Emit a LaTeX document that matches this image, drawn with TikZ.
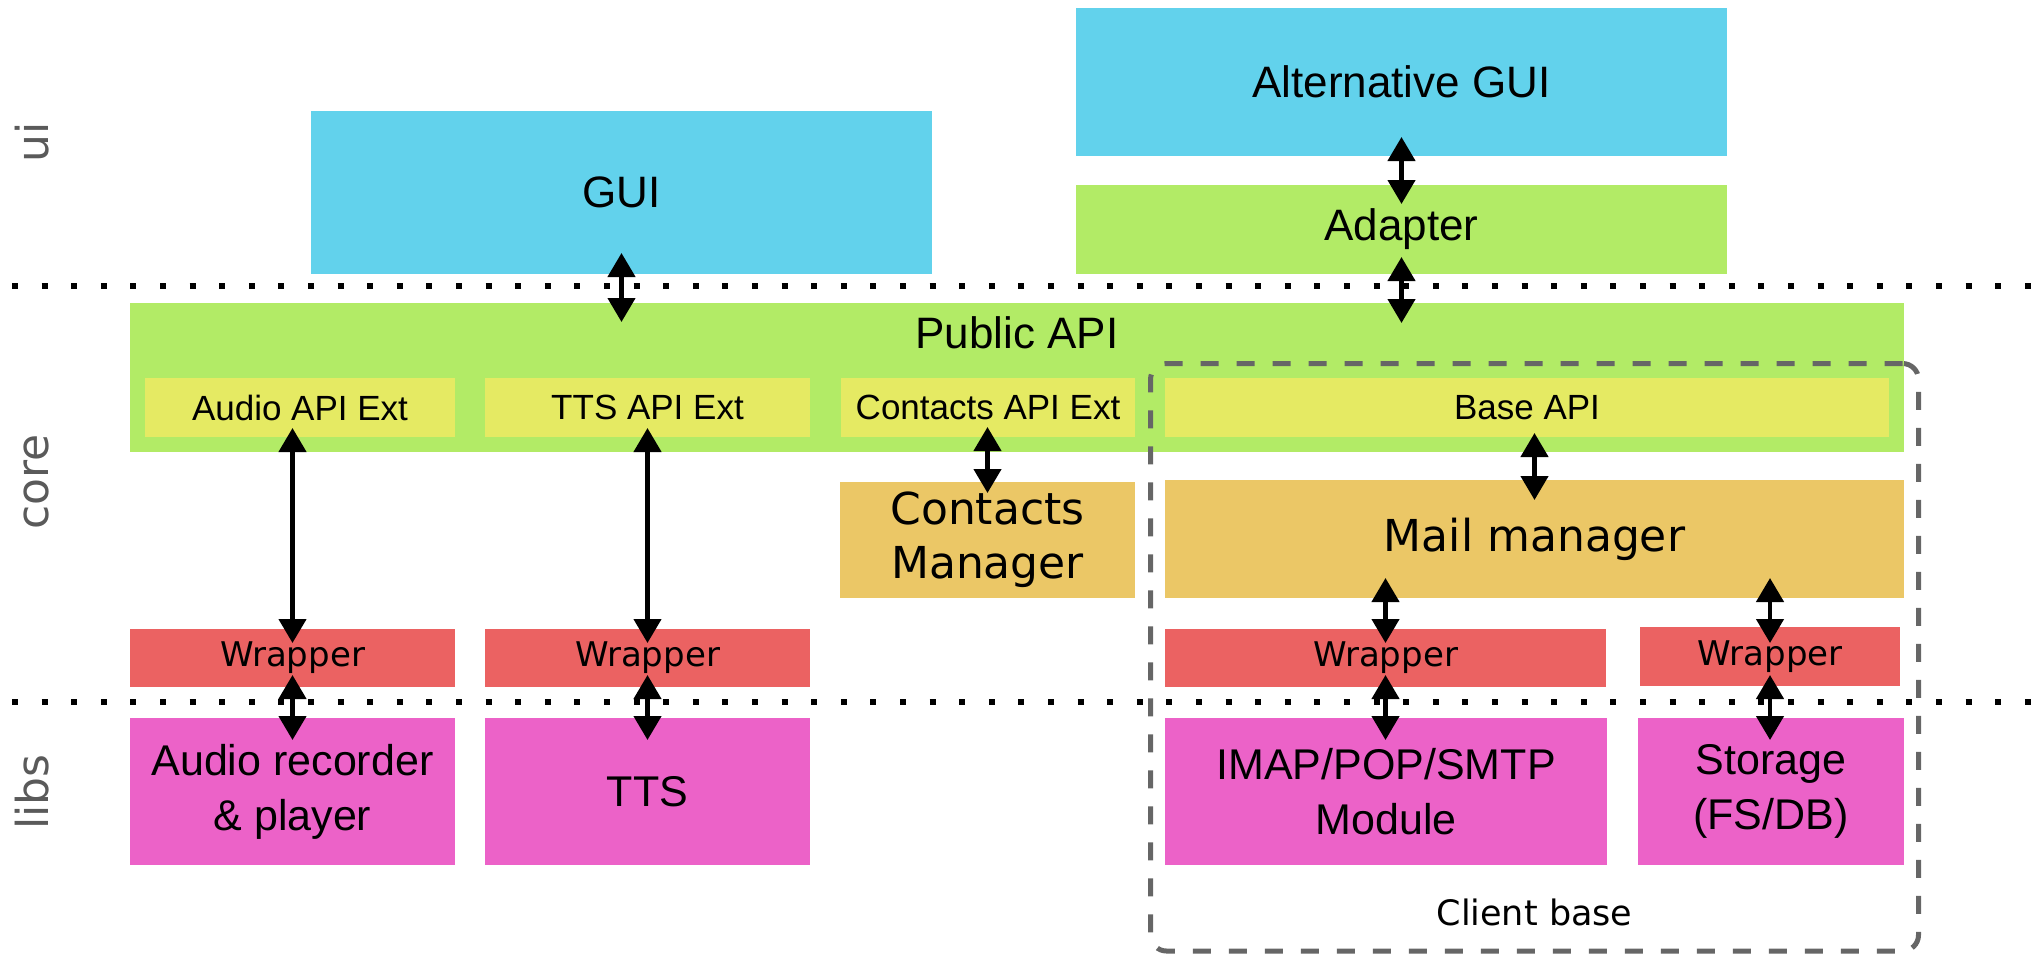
\documentclass[tikz,border=0pt]{standalone}
\usepackage{fontspec}
\setmainfont{Liberation Sans}
\newfontfamily\dvsans{DejaVu Sans}
\usetikzlibrary{arrows.meta}
\definecolor{ccyan}{HTML}{62D2EC}
\definecolor{cgreen}{HTML}{B2EB66}
\definecolor{cyell}{HTML}{E5EA63}
\definecolor{corange}{HTML}{EBC766}
\definecolor{cred}{HTML}{EB6262}
\definecolor{cmag}{HTML}{EC62C8}
\definecolor{cdash}{HTML}{666666}
\definecolor{clayer}{HTML}{5A5A5A}
\newcommand\FntBig{\fontsize{44}{54}\selectfont}
\newcommand\FntApi{\fontsize{35}{42}\selectfont}
\newcommand\FntLib{\fontsize{43}{55}\selectfont}
\newcommand\FntMgr{\dvsans\fontsize{44}{54}\selectfont}
\newcommand\FntWrap{\dvsans\fontsize{34}{40}\selectfont}
\newcommand\FntClient{\dvsans\fontsize{35}{42}\selectfont}
\newcommand\FntLayer{\dvsans\fontsize{44}{52}\selectfont}
\begin{document}
\begin{tikzpicture}[x=1pt,y=-1pt,
  box/.style={rectangle, inner sep=0pt, outer sep=0pt, align=center, text=black},
  uibox/.style={box, fill=ccyan, font=\FntBig},
  greenbox/.style={box, fill=cgreen, font=\FntBig},
  apibox/.style={box, fill=cyell, font=\FntApi, minimum height=59pt},
  mgrbox/.style={box, fill=corange, font=\FntMgr},
  wrapbox/.style={box, fill=cred, font=\FntWrap},
  libbox/.style={box, fill=cmag, font=\FntLib, minimum height=147pt},
  layer/.style={text=clayer, font=\FntLayer, rotate=90, anchor=base, inner sep=0pt},
  separator/.style={line width=6pt, dash pattern=on 6pt off 23.6pt, black},
  container/.style={draw=cdash, line width=5pt, dash pattern=on 18pt off 18pt, rounded corners=16pt, inner sep=0pt, outer sep=0pt},
  biarrow/.style={{Triangle[width=27pt,length=24pt]}-{Triangle[width=27pt,length=24pt]}, line width=4.5pt, black},
]
\useasboundingbox (0,0) rectangle (2033,954);

% layer separators
\draw[separator] (12,286) -- (2033,286);
\draw[separator] (12,702) -- (2033,702);

% layer labels
\node[layer] (lui) at (48,142) {ui};
\node[layer] (lcore) at (48,482) {core};
\node[layer] (llibs) at (48,792) {libs};

% ui
\node[uibox, minimum width=621pt, minimum height=163pt] (gui) at (621.5,192.5) {GUI};
\node[uibox, minimum width=651pt, minimum height=148pt] (altgui) at (1401.5,82) {Alternative GUI};
\node[greenbox, minimum width=651pt, minimum height=89pt] (adapter) at (1401.5,229.5) {Adapter};

% core
\node[greenbox, minimum width=1774pt, minimum height=149pt,
  label={[font=\FntBig, anchor=base, yshift=-45pt, inner sep=0pt]north:Public API}] (pubapi) at (1017,377.5) {};
\node[apibox, minimum width=310pt] (aapi) at (300,407.5) {Audio API Ext};
\node[apibox, minimum width=325pt] (tapi) at (647.5,407.5) {TTS API Ext};
\node[apibox, minimum width=294pt] (capi) at (988,407.5) {Contacts API Ext};
\node[apibox, minimum width=724pt] (bapi) at (1527,407.5) {Base API};

\node[mgrbox, minimum width=295pt, minimum height=116pt] (cmgr) at (987.5,540) {Contacts\\Manager};
\node[mgrbox, minimum width=739pt, minimum height=118pt] (mail) at (1534.5,539) {Mail manager};

\node[wrapbox, minimum width=325pt, minimum height=58pt] (wr1) at (292.5,658) {Wrapper};
\node[wrapbox, minimum width=325pt, minimum height=58pt] (wr2) at (647.5,658) {Wrapper};
\node[wrapbox, minimum width=441pt, minimum height=58pt] (wr3) at (1385.5,658) {Wrapper};
\node[wrapbox, minimum width=260pt, minimum height=59pt] (wr4) at (1770,656.5) {Wrapper};

% libs
\node[libbox, minimum width=325pt] (alib) at (292.5,791.5) {Audio recorder\\\& player};
\node[libbox, minimum width=325pt] (tlib) at (647.5,791.5) {TTS};
\node[libbox, minimum width=442pt] (imap) at (1386,791.5) {IMAP/POP/SMTP\\Module};
\node[libbox, minimum width=266pt] (stor) at (1771,791.5) {Storage\\(FS/DB)};

% client base container
\node[container, minimum width=768pt, minimum height=587.5pt,
  label={[font=\FntClient, anchor=base, yshift=26pt, inner sep=0pt]south:Client base}] (cbase) at (1534.5,657.25) {};

% connectors
\draw[biarrow, shorten <=-21pt, shorten >=-19pt] (gui.south) -- (gui.south |- pubapi.north);
\draw[biarrow, shorten <=-19pt, shorten >=-19pt] (altgui.south) -- (adapter.north);
\draw[biarrow, shorten <=-17pt, shorten >=-20pt] (adapter.south) -- (adapter.south |- pubapi.north);

\draw[biarrow, shorten <=-9pt, shorten >=-14pt] (wr1.north |- aapi.south) -- (wr1.north);
\draw[biarrow, shorten <=-9pt, shorten >=-14pt] (wr2.north |- tapi.south) -- (wr2.north);
\draw[biarrow, shorten <=-10pt, shorten >=-11pt] (cmgr.north |- capi.south) -- (cmgr.north);
\draw[biarrow, shorten <=-4pt, shorten >=-20pt] (mail.north |- bapi.south) -- (mail.north);

\draw[biarrow, shorten <=-20pt, shorten >=-14pt] (wr3.north |- mail.south) -- (wr3.north);
\draw[biarrow, shorten <=-20pt, shorten >=-16pt] (wr4.north |- mail.south) -- (wr4.north);

\draw[biarrow, shorten <=-12pt, shorten >=-22pt] (wr1.south) -- (wr1.south |- alib.north);
\draw[biarrow, shorten <=-12pt, shorten >=-22pt] (wr2.south) -- (wr2.south |- tlib.north);
\draw[biarrow, shorten <=-12pt, shorten >=-22pt] (wr3.south) -- (wr3.south |- imap.north);
\draw[biarrow, shorten <=-11pt, shorten >=-22pt] (wr4.south) -- (wr4.south |- stor.north);
\end{tikzpicture}
\end{document}
